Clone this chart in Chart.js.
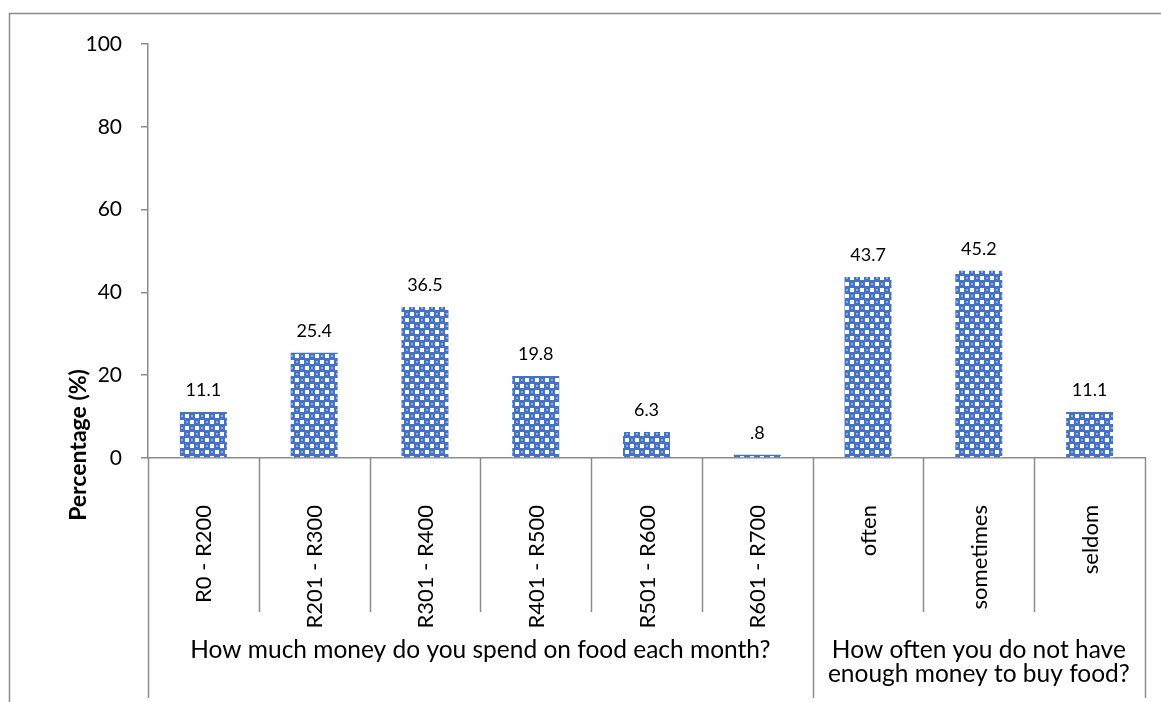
<!DOCTYPE html>
<html>
<head>
<meta charset="utf-8">
<script src="https://cdn.jsdelivr.net/npm/chart.js@4/dist/chart.umd.min.js"></script>
<style>
  html, body { margin: 0; padding: 0; background: #fff; }
  #wrap { width: 1161px; height: 702px; position: relative; }
</style>
</head>
<body>
<div id="wrap"><canvas id="c" width="1161" height="702"></canvas></div>
<script>
// Survey answers, in percent
const categories = ['R0 - R200', 'R201 - R300', 'R301 - R400', 'R401 - R500', 'R501 - R600', 'R601 - R700', 'often', 'sometimes', 'seldom'];
const percentages = [11.1, 25.4, 36.5, 19.8, 6.3, 0.8, 43.7, 45.2, 11.1];
// Question headings under the category labels and how many categories each covers
const groupTitles = [
  ['How much money do you spend on food each month?'],
  ['How often you do not have', 'enough money to buy food?']
];
const groupSizes = [6, 3];
const yTicks = [0, 20, 40, 60, 80, 100];
const yTitle = 'Percentage (%)';

const FONT = 'Lato, "Open Sans", sans-serif';
const LINE = '#8c8c8c';

// Blue checker fill for the bars
function makePattern(ctx) {
  const t = document.createElement('canvas');
  t.width = 10; t.height = 12;
  const g = t.getContext('2d');
  g.fillStyle = '#4472C4'; g.fillRect(0, 0, 10, 12);
  g.fillStyle = '#ffffff'; g.fillRect(0, 0, 4, 4); g.fillRect(5, 6, 4, 4);
  g.fillStyle = '#8FAADC'; g.fillRect(6, 1, 2, 2); g.fillRect(1, 7, 2, 2);
  return ctx.createPattern(t, 'repeat');
}

// SPSS-style value text: drops the leading zero (0.8 -> .8)
function fmt(v) {
  const s = v.toFixed(1);
  return s.startsWith('0.') ? s.slice(1) : s;
}

const decorations = {
  id: 'decorations',
  beforeDraw(chart) {
    const ctx = chart.ctx;
    ctx.save();
    ctx.strokeStyle = LINE;
    ctx.lineWidth = 1.5;
    ctx.beginPath();
    ctx.moveTo(9.5, 702);
    ctx.lineTo(9.5, 13.5);
    ctx.lineTo(1161, 13.5);
    ctx.stroke();
    ctx.restore();
  },
  afterDraw(chart) {
    const ctx = chart.ctx;
    const xs = chart.scales.x;
    const area = chart.chartArea;
    const n = categories.length;
    const step = (area.right - area.left) / n;
    const base = area.bottom;

    ctx.save();
    // dividers between categories; longer ones between questions
    const groupEdges = [0];
    groupSizes.reduce((acc, s) => { groupEdges.push(acc + s); return acc + s; }, 0);
    ctx.strokeStyle = LINE;
    ctx.lineWidth = 1.5;
    for (let i = 0; i <= n; i++) {
      const x = Math.round(area.left + i * step) + 0.5;
      const long = groupEdges.includes(i);
      ctx.beginPath();
      ctx.moveTo(x, base);
      ctx.lineTo(x, long ? 698 : 612);
      ctx.stroke();
    }

    // rotated category labels
    ctx.fillStyle = '#000';
    ctx.font = '22px ' + FONT;
    ctx.textAlign = 'right';
    ctx.textBaseline = 'middle';
    categories.forEach((c, i) => {
      const x = xs.getPixelForValue(i);
      ctx.save();
      ctx.translate(x + 1, 505);
      ctx.rotate(-Math.PI / 2);
      ctx.fillText(c, 0, 0);
      ctx.restore();
    });

    // question headings
    ctx.font = '24.5px ' + FONT;
    ctx.textAlign = 'center';
    for (let gi = 0; gi < groupTitles.length; gi++) {
      const l = area.left + groupEdges[gi] * step;
      const r = area.left + groupEdges[gi + 1] * step;
      const cx = (l + r) / 2;
      groupTitles[gi].forEach((line, li) => {
        ctx.fillText(line, cx, 650 + li * 24);
      });
    }

    // value labels above bars
    ctx.font = '18px ' + FONT;
    ctx.textBaseline = 'middle';
    const meta = chart.getDatasetMeta(0);
    meta.data.forEach((bar, i) => {
      ctx.fillText(fmt(percentages[i]), bar.x, bar.y - 22);
    });

    // y axis title
    ctx.font = 'bold 23px ' + FONT;
    ctx.save();
    ctx.translate(79, 445);
    ctx.rotate(-Math.PI / 2);
    ctx.fillText(yTitle, 0, 0);
    ctx.restore();

    ctx.restore();
  }
};

const canvas = document.getElementById('c');
const ctx = canvas.getContext('2d');

new Chart(ctx, {
  type: 'bar',
  data: {
    labels: categories,
    datasets: [{
      data: percentages,
      backgroundColor: makePattern(ctx),
      borderWidth: 0,
      barPercentage: 0.424,
      categoryPercentage: 1
    }]
  },
  options: {
    responsive: false,
    devicePixelRatio: 1,
    animation: false,
    layout: { padding: { left: 0, top: 44, right: 16, bottom: 0 } },
    plugins: { legend: { display: false }, tooltip: { enabled: false } },
    scales: {
      x: {
        grid: { display: false },
        ticks: { display: false },
        border: { display: true, color: LINE, width: 1.5 },
        afterFit(scale) { scale.height = 702 - 458; }
      },
      y: {
        min: 0,
        max: 100,
        afterBuildTicks(scale) { scale.ticks = yTicks.map(v => ({ value: v })); },
        ticks: { color: '#000', font: { family: FONT, size: 21 }, padding: 19 },
        grid: { drawOnChartArea: false, drawTicks: true, tickLength: 7, color: LINE, lineWidth: 1.5 },
        border: { display: true, color: LINE, width: 1.5 },
        afterFit(scale) { scale.width = 148; }
      }
    }
  },
  plugins: [decorations]
});
</script>
</body>
</html>
